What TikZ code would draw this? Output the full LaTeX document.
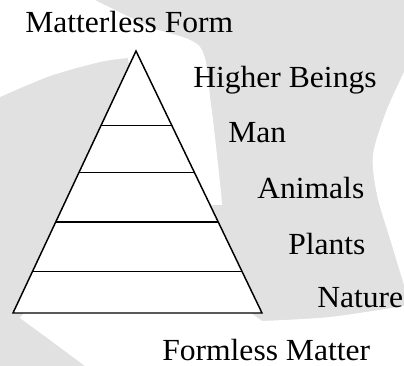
\documentclass[tikz,border=0pt]{standalone}
\usepackage{fontspec}
\setmainfont{Liberation Serif}[FakeStretch=1.03]
\usetikzlibrary{calc}
\definecolor{wmark}{HTML}{E1E1E1}
\tikzset{level/.style={draw=black,line width=1.1pt},
lab/.style={font=\fontsize{23}{27}\selectfont,anchor=base west,inner sep=0pt}}

\begin{document}
\begin{tikzpicture}[x=.75pt,y=-.75pt]
\useasboundingbox (0,0) rectangle (404,366);
% faint watermark behind the pyramid
\fill[wmark] (0,0) rectangle (404,366);
\fill[white] (0,0) -- plot[smooth] coordinates {(95,0) (150,27) (200,47) (211,105) (220,183) (222,205)}
 -- (150,205) -- (128,58) -- plot[smooth] coordinates {(128,58) (100,62) (50,76) (0,97)} -- cycle;
\fill[white] plot[smooth] coordinates {(404,72) (386,112) (373,155) (377,195) (391,242) (404,285)} -- cycle;
\fill[white] plot[smooth] coordinates {(404,306) (330,317) (262,321)} -- (240,305) -- (30,305)
 -- plot[smooth] coordinates {(20,318) (50,340) (85,366)} -- (404,366) -- cycle;
% pyramid
\coordinate (apex) at (136,51);
\coordinate (baseL) at (13,313);
\coordinate (baseR) at (262,313);
\filldraw[fill=white,level,line join=miter] (apex) -- (baseL) -- (baseR) -- cycle;
\foreach \t in {0.2836,0.4645,0.6527,0.8424}
 {\draw[level] ($(apex)!\t!(baseL)$) -- ($(apex)!\t!(baseR)$);}
\node[lab] (form) at (25,33) {Matterless Form};
\node[lab] (beings) at (193,88) {Higher Beings};
\node[lab] (man) at (228,143) {Man};
\node[lab] (animals) at (257,199) {Animals};
\node[lab] (plants) at (288,255) {Plants};
\node[lab] (nature) at (317,308) {Nature};
\node[lab,text depth=0pt] (matter) at (162,361) {Formless Matter};
\end{tikzpicture}
\end{document}
